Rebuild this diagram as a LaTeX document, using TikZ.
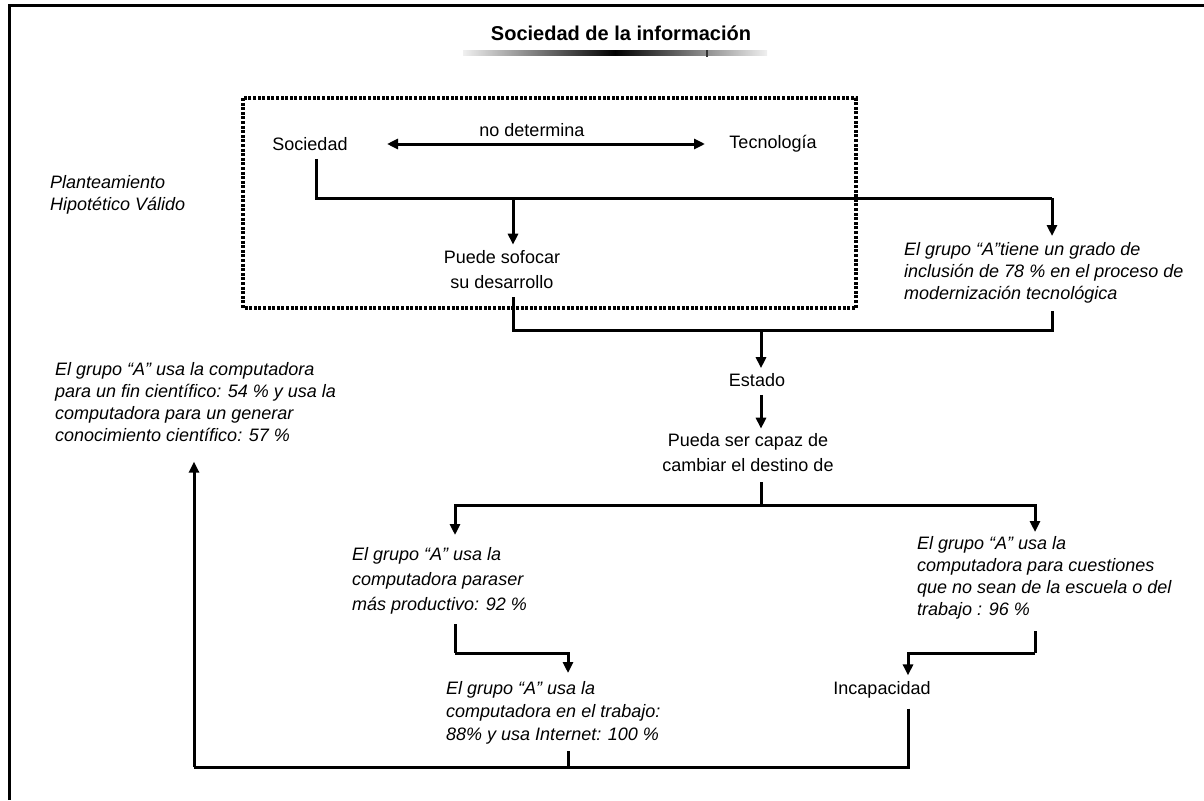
\documentclass[tikz,border=0pt]{standalone}
\usepackage{fontspec}
\setmainfont{Liberation Sans}
\usetikzlibrary{arrows.meta}
\tikzset{
  txt/.style={inner sep=0pt, font=\fontsize{18}{25}\selectfont},
  itxt/.style={inner sep=0pt, align=left, font=\fontsize{18}{22}\selectfont\itshape},
  line/.style={line width=3pt},
  arr/.style={line width=3pt, -{Triangle[length=11pt,width=10pt]}},
  dbl/.style={line width=3pt, {Triangle[length=11pt,width=10pt]}-{Triangle[length=11pt,width=10pt]}},
  dotbox/.style={line width=3.2pt, dash pattern=on 3pt off 1.6pt}
}
\begin{document}
\begin{tikzpicture}[x=1pt,y=-1pt]
\useasboundingbox (0,0) rectangle (1204,800);
\fill[white] (0,0) rectangle (1204,800);
% outer frame
\draw[line width=3pt] (9,800) -- (9,6) -- (1204,6);
% title
\node[inner sep=0pt, font=\fontsize{20}{24}\selectfont\bfseries] (title) at (621,33) {Sociedad de la información};
\shade[left color=gray!12, right color=gray!12, middle color=black] (463,51) rectangle (767,56);
\fill[black!80] (706,50) rectangle (708,57);
% dotted box
\draw[dotbox] (243,98) rectangle (856,308);
% top row
\node[txt] (soc) at (310,144) {Sociedad};
\node[txt] (tec) at (773,144) {Tecnología};
\node[txt] (nodet) at (532,130) {no determina};
\coordinate (d1) at (387,144);
\coordinate (d2) at (705,144);
\draw[dbl] (d1) -- (d2);
% planteamiento
\node[itxt, anchor=west] (plan) at (50,195) {Planteamiento\\Hipotético Válido};
% sociedad branch
\coordinate (j1) at (316,198);
\coordinate (j2) at (1052,198);
\coordinate (j3) at (513,198);
\node[txt, align=center] (puede) at (502,270) {Puede sofocar\\su desarrollo};
\node[itxt, anchor=north west] (incl) at (904,242) {El grupo “A”tiene un grado de\\inclusión de 78 \% en el proceso de\\modernización tecnológica};
\draw[line] ([yshift=-8pt]soc.south -| j1) -- (j1) -- (j2);
\draw[arr] (j3) -- ([yshift=6pt]puede.north -| j3);
\draw[arr] (j2) -- ([yshift=6pt]incl.north -| j2);
% to Estado
\coordinate (k1) at (513,330);
\coordinate (k2) at (1052,330);
\coordinate (k3) at (761,330);
\node[txt] (estado) at (757,380) {Estado};
\draw[line] ([yshift=-8pt]puede.south -| k1) -- (k1) -- (k2) -- ([yshift=-8pt]incl.south -| k2);
\draw[arr] (k3) -- ([yshift=5pt]estado.north -| k3);
\node[txt, align=center] (pueda) at (748,453) {Pueda ser capaz de\\cambiar el destino de};
\draw[arr] ([yshift=-8pt]estado.south -| k3) -- ([yshift=5pt]pueda.north -| k3);
% split
\coordinate (m1) at (761,505);
\coordinate (m2) at (455,505);
\coordinate (m3) at (1035,505);
\node[itxt, anchor=north west, font=\fontsize{18}{25}\selectfont\itshape] (prod) at (352,547) {El grupo “A” usa la\\computadora paraser\\más productivo: 92 \%};
\node[itxt, anchor=north west] (cuest) at (917,536) {El grupo “A” usa la\\computadora para cuestiones\\que no sean de la escuela o del\\trabajo : 96 \%};
\draw[line] ([yshift=-10pt]pueda.south -| m1) -- (m1);
\draw[arr] (m1) -- (m2) -- ([yshift=12pt]prod.north -| m2);
\draw[arr] (m1) -- (m3) -- ([yshift=4pt]cuest.north -| m3);
% lower
\node[itxt, anchor=north west, font=\fontsize{18}{23}\selectfont\itshape] (trab) at (446,681) {El grupo “A” usa la\\computadora en el trabajo:\\88\% y usa Internet: 100 \%};
\node[txt] (incap) at (882,690) {Incapacidad};
\coordinate (n1) at (455,653);
\coordinate (n2) at (568,653);
\draw[line] ([yshift=-10pt]prod.south -| n1) -- (n1);
\draw[arr] (n1) -- (n2) -- ([yshift=8pt]trab.north -| n2);
\coordinate (p1) at (1035,653);
\coordinate (p2) at (908,653);
\draw[line] ([yshift=-12pt]cuest.south -| p1) -- (p1);
\draw[arr] (p1) -- (p2) -- ([yshift=6pt]incap.north -| p2);
% bottom loop
\node[itxt, anchor=north west] (cient) at (55,362) {El grupo “A” usa la computadora\\para un fin científico: 54 \% y usa la\\computadora para un generar\\conocimiento científico: 57 \%};
\coordinate (b1) at (908,767);
\coordinate (b2) at (568,767);
\coordinate (b3) at (194,767);
\draw[line] ([yshift=-10pt]incap.south -| b1) -- (b1) -- (b3);
\draw[line] ([yshift=-7pt]trab.south -| b2) -- (b2);
\draw[arr] (b3) -- ([yshift=-20pt]cient.south -| b3);
\end{tikzpicture}
\end{document}
